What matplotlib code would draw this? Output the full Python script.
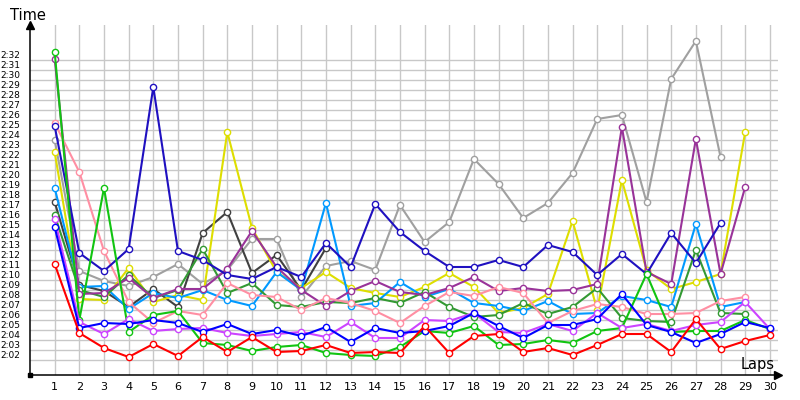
"""Lap times per driver, one coloured line each, laps 1-30."""
import matplotlib
matplotlib.use("Agg")
import matplotlib.pyplot as plt
from matplotlib.transforms import ScaledTranslation

plt.rcParams["font.family"] = ["DejaVu Sans"]

# lap times in seconds (2:00 = 120 s); series end where the driver stopped
red = [131.6, 124.7, 123.2, 122.3, 123.6, 122.4, 124.3, 122.8, 124.3, 122.8,
       122.9, 123.5, 122.7, 122.8, 122.7, 125.4, 122.7, 124.4, 124.6, 122.8,
       123.2, 122.5, 123.5, 124.6, 124.6, 122.8, 126.1, 123.1, 123.9, 124.5]
pink = [145.7, 140.8, 132.9, 127.8, 125.7, 126.9, 126.5, 129.7, 128.5, 128.3,
        127.0, 128.2, 127.7, 126.9, 125.7, 127.4, 128.8, 128.4, 129.3, 128.7,
        125.7, 126.9, 127.6, 127.3, 126.6, 126.6, 126.7, 127.9, 128.3]
green = [152.8, 126.0, 139.2, 124.8, 126.5, 126.9, 123.7, 123.5, 122.9, 123.3,
         123.5, 122.7, 122.5, 122.4, 123.3, 124.9, 124.7, 125.4, 123.5, 123.6,
         124.0, 123.7, 124.9, 125.2, 130.6, 124.8, 124.9, 124.9, 126.0, 125.1]
navy = [145.4, 132.7, 130.9, 133.1, 149.3, 132.9, 132.0, 130.5, 130.1, 131.3,
        130.3, 133.7, 131.3, 137.6, 134.8, 132.9, 131.3, 131.3, 132.0, 131.3,
        133.5, 132.8, 130.5, 132.6, 130.6, 134.7, 131.7, 135.7]
blue = [135.3, 125.2, 125.7, 125.6, 126.0, 125.7, 124.8, 125.6, 124.6, 125.0,
        124.4, 125.3, 123.8, 125.2, 124.7, 124.9, 125.4, 126.7, 125.4, 124.2,
        125.5, 125.5, 126.1, 128.6, 125.5, 124.8, 123.7, 124.6, 125.8, 125.2]
light_blue = [139.2, 129.3, 129.4, 127.1, 128.7, 128.2, 129.0, 128.0, 127.4, 130.8,
              129.0, 137.7, 127.4, 127.7, 129.8, 128.3, 129.1, 127.7, 127.4, 126.9,
              127.9, 126.6, 126.7, 128.4, 128.0, 127.3, 135.6, 127.3, 127.8]
yellow = [142.8, 128.1, 128.0, 131.2, 127.8, 128.5, 128.0, 144.8, 135.2, 130.8,
          129.2, 130.8, 129.2, 128.7, 128.3, 129.3, 130.7, 129.3, 126.7, 127.2,
          128.6, 135.9, 127.0, 140.0, 131.0, 129.1, 129.8, 130.6, 144.8]
gray = [144.0, 130.9, 129.9, 129.4, 130.3, 131.6, 129.6, 131.0, 134.1, 134.1,
        128.3, 131.4, 131.9, 131.0, 137.5, 133.8, 135.8, 142.1, 139.6, 136.2,
        137.7, 140.7, 146.1, 146.5, 137.8, 150.1, 153.9, 142.3]
dark_gray = [137.8, 129.5, 128.9, 127.3, 129.1, 127.3, 134.7, 136.8, 130.7, 132.5,
             129.0, 133.2]
purple = [152.1, 128.6, 128.7, 130.2, 128.2, 129.1, 129.1, 131.1, 134.9, 131.3,
          129.0, 127.4, 128.9, 129.9, 128.8, 128.5, 129.2, 130.3, 128.9, 129.2,
          128.9, 129.0, 129.6, 145.3, 130.8, 129.6, 144.1, 130.6, 139.3]
violet = [136.1, 125.8, 124.6, 126.1, 124.9, 125.1, 125.2, 124.7, 124.4, 124.6,
          124.8, 124.3, 125.8, 124.2, 124.2, 126.0, 125.9, 126.7, 124.8, 124.7,
          125.6, 124.9, 126.7, 125.2, 125.6, 124.9, 125.5, 125.8, 127.8, 125.1]
dark_green = [136.5, 129.0, 128.3, 130.5, 128.2, 129.0, 133.1, 128.7, 129.7, 127.5,
              127.3, 127.8, 127.7, 128.2, 127.7, 128.8, 127.3, 126.3, 126.5, 127.7,
              126.6, 127.3, 129.2, 126.2, 125.9, 125.8, 133.0, 126.7, 126.6]

series = [
    (gray, "#a0a0a0"), (dark_gray, "#404040"), (yellow, "#dede00"),
    (light_blue, "#0099ff"), (dark_green, "#339933"), (purple, "#993399"),
    (pink, "#ff8fa3"), (navy, "#1f10c0"), (green, "#11c411"),
    (violet, "#cc44ff"), (blue, "#0000ff"), (red, "#ff0000"),
]

fig = plt.figure(figsize=(8, 4), dpi=100)
ax = fig.add_axes([30 / 800, 25 / 400, 748 / 800, 350 / 400])

for times, color in series:
    laps = list(range(1, len(times) + 1))
    ax.plot(laps, times, color=color, lw=1.5, marker="o", ms=4.5,
            mfc="white", mec=color, mew=1.0)

ax.set_xlim(0, 30.33)
ax.set_ylim(120.5, 155.5)

# grid at every lap and every second from 2:02 to 2:32
yt = list(range(122, 153))
ax.set_xticks(range(1, 31))
ax.set_yticks(yt)
ax.set_yticklabels([f"{t // 60}:{t % 60:02d}" for t in yt])
ax.grid(color="#c8c8c8", lw=1.0)
ax.set_axisbelow(True)
ax.tick_params(axis="y", length=0, pad=7, labelsize=6.5)
ax.tick_params(axis="x", length=0, pad=5, labelsize=8)
for lab in ax.get_yticklabels():
    lab.set_transform(lab.get_transform() + ScaledTranslation(0, 0.05, fig.dpi_scale_trans))

for s in ("top", "right"):
    ax.spines[s].set_visible(False)
for s in ("left", "bottom"):
    ax.spines[s].set_linewidth(1.1)

# arrow heads and origin square
ax.plot([0], [1], marker="^", ms=6, color="k", transform=ax.transAxes, clip_on=False)
ax.plot([1], [0], marker=">", ms=6, color="k", transform=ax.transAxes, clip_on=False)
ax.plot([0], [0], marker="s", ms=3, color="k", transform=ax.transAxes, clip_on=False)

fig.text(10 / 800, 1 - 15 / 400, "Time", fontsize=10.5, va="center", ha="left")
fig.text(775 / 800, 1 - 364 / 400, "Laps", fontsize=10.5, va="center", ha="right")

fig.savefig("out.png", dpi=100)
